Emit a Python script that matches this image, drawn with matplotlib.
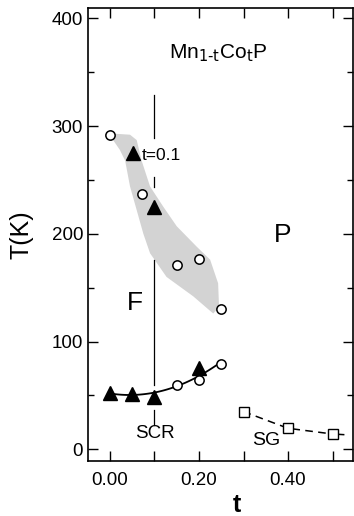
import numpy as np
import matplotlib
matplotlib.use("Agg")
import matplotlib.pyplot as plt
from matplotlib.patches import Polygon
from matplotlib.ticker import MultipleLocator, FixedLocator

plt.rcParams['font.family'] = ['Liberation Sans', 'DejaVu Sans']

# Upper branch (Curie temperature)
tc_circ_t = [0.0, 0.071, 0.15, 0.20, 0.25]
tc_circ_T = [292, 237, 171, 177, 130]
tc_tri_t = [0.052, 0.10]
tc_tri_T = [275, 225]

# Lower branch (SCR)
scr_tri_t = [0.0, 0.05, 0.10, 0.20]
scr_tri_T = [52.5, 51.3, 48.3, 75.5]
scr_circ_t = [0.15, 0.20, 0.25]
scr_circ_T = [59.7, 64.6, 78.9]

# Spin glass
sg_t = [0.30, 0.40, 0.50]
sg_T = [35, 19.5, 14.2]
sg_tail_t = [0.50, 0.525]
sg_tail_T = [14.2, 13.6]

# Shaded band outline (t, T)
band_t = [0.007, 0.045, 0.060, 0.071, 0.090, 0.120, 0.150, 0.195, 0.225, 0.243, 0.245,
          0.232, 0.187, 0.127, 0.090, 0.075, 0.060, 0.045, 0.034, 0.022, 0.007]
band_T = [293, 292, 287, 268, 244, 225, 207, 188, 176, 154, 132,
          126, 142, 160, 182, 200, 222, 244, 268, 278, 287]

# Vertical t=0.1 line segments (T ranges)
vline_t = 0.1
vline_segs = [(288.6, 328.8), (243.4, 252.4), (59.7, 175.7), (22.6, 36.5)]

fig = plt.figure(figsize=(3.54, 5.16), dpi=100)
ax = fig.add_axes([88/354, 1-460.5/516, 265/354, 452.5/516])
ax.set_xlim(-0.0494, 0.546)
ax.set_ylim(-10.4, 409.6)

ax.add_patch(Polygon(np.column_stack([band_t, band_T]), closed=True,
                     facecolor='#d3d3d3', edgecolor='none', zorder=1))

for lo, hi in vline_segs:
    ax.plot([vline_t, vline_t], [lo, hi], color='black', lw=0.9, zorder=2)

# smooth curve through lower branch
all_t = np.array(scr_tri_t + scr_circ_t)
all_T = np.array(scr_tri_T + scr_circ_T)
coef = np.polyfit(all_t, all_T, 2)
tt = np.linspace(0.0, 0.25, 100)
ax.plot(tt, np.polyval(coef, tt), color='black', lw=1.3, zorder=3)

ax.plot(sg_t, sg_T, color='black', lw=1.1, ls=(0, (5, 3.5)), zorder=3)
ax.plot(sg_tail_t, sg_tail_T, color='black', lw=1.1, zorder=3)

ax.plot(tc_circ_t, tc_circ_T, 'o', ms=6.7, mfc='white', mec='black', mew=1.1, ls='none', zorder=4)
ax.plot(scr_circ_t, scr_circ_T, 'o', ms=6.7, mfc='white', mec='black', mew=1.1, ls='none', zorder=4)
ax.plot(tc_tri_t, tc_tri_T, '^', ms=10.5, color='black', ls='none', zorder=4)
ax.plot(scr_tri_t, scr_tri_T, '^', ms=10.5, color='black', ls='none', zorder=4)
ax.plot(sg_t, sg_T, 's', ms=7.2, mfc='white', mec='black', mew=1.0, ls='none', zorder=4)

ax.text(0.243, 368, r'Mn$_{\mathrm{1\text{-}t}}$Co$_{\mathrm{t}}$P', fontsize=15, ha='center', va='center')
ax.text(0.072, 273, 't=0.1', fontsize=12.5, ha='left', va='center')
ax.text(0.389, 199, 'P', fontsize=19, ha='center', va='center')
ax.text(0.056, 136, 'F', fontsize=19, ha='center', va='center')
ax.text(0.10, 15, 'SCR', fontsize=13.5, ha='center', va='center')
ax.text(0.352, 8.5, 'SG', fontsize=14, ha='center', va='center')

ax.xaxis.set_major_locator(FixedLocator([0.0, 0.1, 0.2, 0.3, 0.4, 0.5]))
ax.set_xticklabels(['0.00', '', '0.20', '', '0.40', ''])
ax.yaxis.set_major_locator(MultipleLocator(100))
ax.yaxis.set_minor_locator(MultipleLocator(50))
ax.tick_params(which='both', direction='in', top=True, right=True, width=1.0, labelsize=13.5)
ax.tick_params(which='major', length=7)
ax.tick_params(which='minor', length=4)
ax.tick_params(axis='x', pad=8)
for s in ax.spines.values():
    s.set_linewidth(1.2)

ax.set_ylabel('T(K)', fontsize=18)
ax.yaxis.set_label_coords(-0.205, 0.5)
ax.set_xlabel('t', fontsize=18, fontweight='bold')
ax.xaxis.set_label_coords((236.7-88)/265, -0.072)

fig.savefig('out.png', dpi=100)
